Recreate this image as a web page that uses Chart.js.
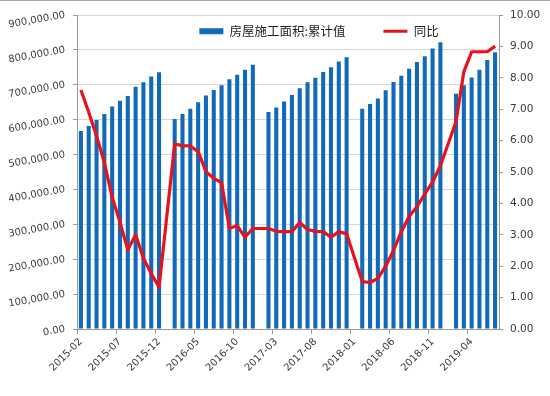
<!DOCTYPE html>
<html>
<head>
<meta charset="utf-8">
<script src="https://cdn.jsdelivr.net/npm/chart.js@4.4.0/dist/chart.umd.min.js"></script>
<style>
html,body{margin:0;padding:0;background:#fff;}
#wrap{width:550px;height:396px;position:relative;}
</style>
</head>
<body>
<div id="wrap"><canvas id="c" width="550" height="396"></canvas></div>
<script>
const categories = [
  '2015-02','2015-03','2015-04','2015-05','2015-06','2015-07','2015-08','2015-09','2015-10','2015-11','2015-12',
  '2016-01','2016-02','2016-03','2016-04','2016-05','2016-06','2016-07','2016-08','2016-09','2016-10','2016-11','2016-12',
  '2017-01','2017-02','2017-03','2017-04','2017-05','2017-06','2017-07','2017-08','2017-09','2017-10','2017-11','2017-12',
  '2018-01','2018-02','2018-03','2018-04','2018-05','2018-06','2018-07','2018-08','2018-09','2018-10','2018-11','2018-12',
  '2019-01','2019-02','2019-03','2019-04','2019-05','2019-06','2019-07'
];

const seriesAreaName = '房屋施工面积:累计值';
const seriesYoyName = '同比';

// 房屋施工面积:累计值 (left axis)
const areaValues = [
  567500, 582000, 599000, 616000, 638000, 654000, 668000, 694000, 707000, 724000, 735600,
  null,
  602000, 616000, 631000, 650000, 669000, 685000, 699000, 716000, 729000, 743000, 757500,
  null,
  622000, 635000, 652000, 670700, 690000, 707000, 720000, 736600, 750000, 767000, 779000,
  null,
  631500, 645000, 661000, 684000, 708000, 726000, 746000, 765000, 782000, 804000, 821700,
  null,
  674000, 699000, 721000, 743000, 771000, 793500
];

// 同比 (right axis)
const yoyValues = [
  7.61, 6.9, 6.15, 5.3, 4.2, 3.4, 2.52, 3.0, 2.25, 1.77, 1.33,
  null,
  5.89, 5.84, 5.83, 5.65, 5.01, 4.8, 4.66, 3.21, 3.29, 2.92, 3.2,
  null,
  3.2, 3.11, 3.1, 3.1, 3.39, 3.17, 3.11, 3.1, 2.92, 3.1, 3.03,
  null,
  1.51, 1.48, 1.61, 2.0, 2.5, 3.1, 3.58, 3.89, 4.3, 4.68, 5.2,
  null,
  6.6, 8.19, 8.83, 8.83, 8.83, 9.01
];

const leftAxisMin = 0, leftAxisMax = 900000, leftAxisStep = 100000;
const rightAxisMin = 0, rightAxisMax = 10, rightAxisStep = 1;
const xLabelEvery = 5;

const axisGray = '#9a9a9a';
const gridGray = '#d6d6d6';
const tickText = '#3a3a3a';

// Let the legend float over the top of the plot area (as in the original),
// instead of reserving its own band above it.
const legendOverlay = {
  id: 'legendOverlay',
  afterInit(chart) {
    const lg = chart.legend;
    if (!lg || lg._overlayPatched) return;
    const origFit = lg.fit.bind(lg);
    lg.fit = function () { origFit(); this._realHeight = this.height; this.height = 0; };
    lg._overlayPatched = true;
  },
  afterLayout(chart) {
    const lg = chart.legend;
    if (lg) {
      lg.height = lg._realHeight || lg.height;
      lg.bottom = lg.top + lg.height;
      lg.left += 44; lg.right += 44;
    }
  }
};

// thin gray frame line along the top edge of the picture
const topFrame = {
  id: 'topFrame',
  afterDraw(chart) {
    const ctx = chart.ctx;
    ctx.save();
    ctx.strokeStyle = '#a8a8a8';
    ctx.lineWidth = 1;
    ctx.beginPath();
    ctx.moveTo(0, 0.5);
    ctx.lineTo(chart.width, 0.5);
    ctx.stroke();
    ctx.restore();
  }
};

Chart.defaults.font.family = '"DejaVu Sans", Verdana, sans-serif';

new Chart(document.getElementById('c'), {
  data: {
    labels: categories,
    datasets: [
      {
        type: 'bar',
        label: seriesAreaName,
        data: areaValues,
        backgroundColor: '#1169b9',
        borderWidth: 0,
        barPercentage: 0.52,
        categoryPercentage: 1.0,
        yAxisID: 'y',
        order: 1,
        pointStyle: 'rect'
      },
      {
        type: 'line',
        label: seriesYoyName,
        data: yoyValues,
        borderColor: '#e8121c',
        backgroundColor: '#e8121c',
        borderWidth: 3.2,
        pointRadius: 0,
        spanGaps: true,
        tension: 0,
        borderJoinStyle: 'round',
        yAxisID: 'y1',
        order: 0,
        pointStyle: 'line'
      }
    ]
  },
  options: {
    responsive: false,
    animation: false,
    devicePixelRatio: 1,
    layout: { padding: { top: 15, left: 0, right: 0, bottom: 0 } },
    plugins: {
      tooltip: { enabled: false },
      legend: {
        position: 'top',
        align: 'center',
        labels: {
          usePointStyle: true,
          pointStyleWidth: 24,
          boxHeight: 6,
          padding: 10,
          color: '#1e1e1e',
          font: { family: '"Noto Sans CJK SC", sans-serif', size: 12.5 },
          sort: (a, b) => a.datasetIndex - b.datasetIndex,
          generateLabels: (chart) => {
            const items = Chart.defaults.plugins.legend.labels.generateLabels(chart);
            items.forEach(it => { if (it.datasetIndex === 0) it.text = it.text + '\u2003\u2003 '; });
            return items;
          }
        }
      }
    },
    scales: {
      x: {
        offset: true,
        grid: {
          offset: true,
          drawOnChartArea: false,
          tickLength: 5,
          color: (c) => (c.index % xLabelEvery === 0 ? axisGray : 'rgba(0,0,0,0)')
        },
        border: { color: axisGray },
        ticks: {
          autoSkip: false,
          minRotation: 45,
          maxRotation: 45,
          padding: 2,
          color: tickText,
          font: { size: 10 },
          callback: (v, i) => (i % xLabelEvery === 0 ? categories[i] : '')
        },
        afterFit: (s) => { s.height = 67; }
      },
      y: {
        position: 'left',
        min: leftAxisMin,
        max: leftAxisMax,
        ticks: {
          stepSize: leftAxisStep,
          minRotation: 10,
          maxRotation: 10,
          padding: 8,
          color: tickText,
          font: { size: 10 },
          callback: (v) => Number(v).toLocaleString('en-US', { minimumFractionDigits: 2, maximumFractionDigits: 2 })
        },
        grid: { color: gridGray, tickColor: axisGray, tickLength: 4 },
        border: { color: axisGray },
        afterFit: (s) => { s.width = 77; }
      },
      y1: {
        position: 'right',
        min: rightAxisMin,
        max: rightAxisMax,
        ticks: {
          stepSize: rightAxisStep,
          padding: 7,
          color: tickText,
          font: { size: 10.5 },
          callback: (v) => Number(v).toFixed(2)
        },
        grid: { drawOnChartArea: false, color: axisGray, tickLength: 4 },
        border: { color: axisGray },
        afterFit: (s) => { s.width = 51; }
      }
    }
  },
  plugins: [legendOverlay, topFrame]
});
</script>
</body>
</html>
